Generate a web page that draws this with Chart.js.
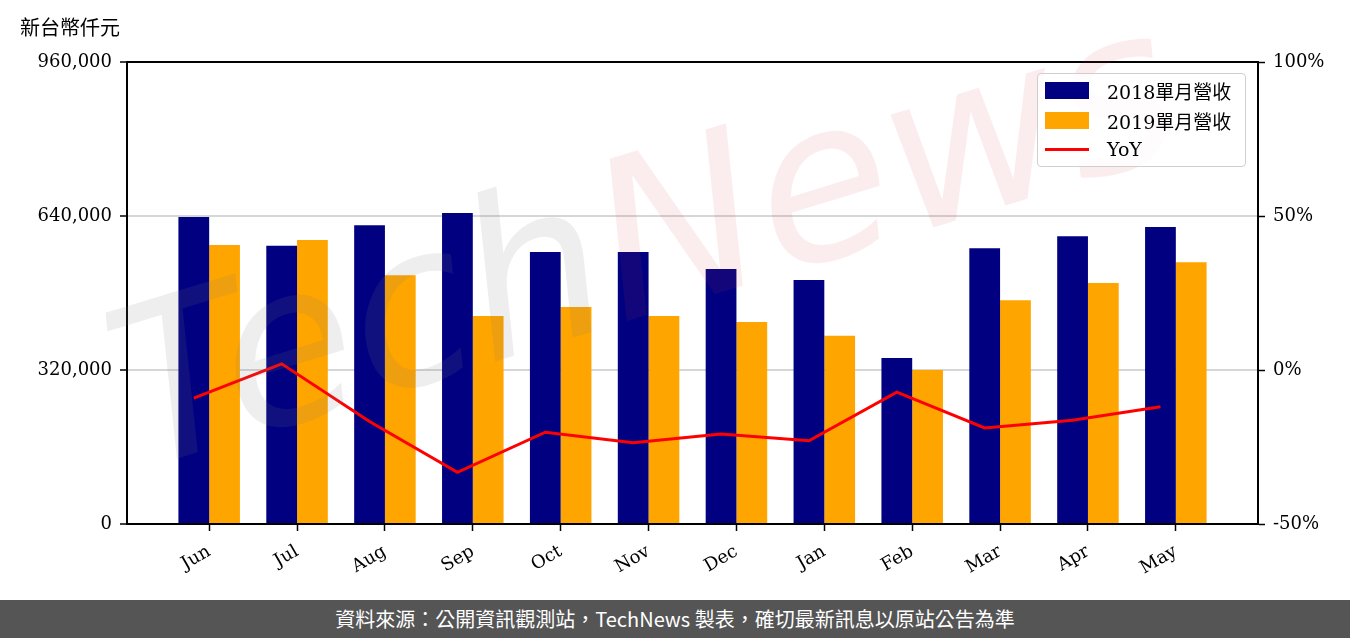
<!DOCTYPE html>
<html lang="zh-Hant">
<head>
<meta charset="UTF-8">
<title>單月營收</title>
<script src="https://cdn.jsdelivr.net/npm/chart.js"></script>
<style>
    html, body { margin: 0; padding: 0; background: #fff; }
    .wrap { position: relative; width: 1350px; height: 638px; overflow: hidden; }
    .unit { position: absolute; left: 20px; top: 12px; font: 20px "Noto Sans CJK TC", sans-serif; color: #000; }
    .legend {
        position: absolute; left: 1037px; top: 73px; width: 209px; height: 94px;
        border: 1.5px solid #cfcfcf; border-radius: 4px; background: rgba(255,255,255,0.8);
        box-sizing: border-box; font: 19px "DejaVu Serif", "Noto Sans CJK TC", serif; color: #000;
    }
    .legend .row { position: absolute; left: 7px; height: 30px; display: flex; align-items: center; }
    .legend .sw { width: 44px; height: 17px; margin-right: 18px; }
    .legend .ln { width: 44px; height: 3px; margin: 7px 18px 7px 0; background: #ff0000; }
    .footer {
        position: absolute; left: 0; top: 600px; width: 1350px; height: 38px; background: #555555;
        color: #fff; font: 20px "Noto Sans CJK TC", sans-serif; text-align: center; line-height: 38px;
    }
</style>
</head>
<body>
<div class="wrap">
    <canvas id="revChart" width="1350" height="600"></canvas>
    <div class="unit">新台幣仟元</div>
    <div class="legend">
        <div class="row" style="top:1px"><div class="sw" style="background:#000080"></div>2018單月營收</div>
        <div class="row" style="top:31px"><div class="sw" style="background:#ffa500"></div>2019單月營收</div>
        <div class="row" style="top:60px"><div class="ln"></div>YoY</div>
    </div>
    <div class="footer">資料來源：公開資訊觀測站，TechNews 製表，確切最新訊息以原站公告為準</div>
</div>

<script>
    // data
    const months = ['Jun', 'Jul', 'Aug', 'Sep', 'Oct', 'Nov', 'Dec', 'Jan', 'Feb', 'Mar', 'Apr', 'May'];
    const rev2018 = [638000, 578000, 621000, 646000, 565000, 565000, 530000, 507000, 345000, 573000, 598000, 617000];
    const rev2019 = [580000, 590000, 517000, 432000, 451000, 432000, 420000, 391000, 320000, 465000, 501000, 544000];
    const yoy = [-9.1, 2.0, -16.7, -33.2, -20.2, -23.6, -20.8, -23.0, -7.2, -18.8, -16.3, -11.9];
    const leftTicks = [0, 320000, 640000, 960000];
    const rightTicks = [-50, 0, 50, 100];

    const serif = '"DejaVu Serif", "Liberation Serif", serif';

    // top spine + watermark
    const framePlugin = {
        id: 'frame',
        afterDraw(chart) {
            const ctx = chart.ctx, a = chart.chartArea;
            ctx.save();
            ctx.strokeStyle = '#000';
            ctx.lineWidth = 2;
            ctx.beginPath();
            ctx.moveTo(a.left, a.top);
            ctx.lineTo(a.right, a.top);
            ctx.stroke();
            // TechNews watermark
            ctx.translate(140, 470);
            ctx.rotate(-17 * Math.PI / 180);
            ctx.font = 'italic 220px "DejaVu Sans", sans-serif';
            ctx.textBaseline = 'alphabetic';
            ctx.fillStyle = 'rgba(120,120,120,0.13)';
            ctx.fillText('Tech', 0, 0);
            const w = ctx.measureText('Tech').width;
            ctx.fillStyle = 'rgba(210,60,70,0.09)';
            ctx.fillText('News', w, 0);
            ctx.restore();
        }
    };

    const ctx = document.getElementById('revChart').getContext('2d');
    new Chart(ctx, {
        type: 'bar',
        data: {
            datasets: [
                {
                    type: 'line',
                    label: 'YoY',
                    data: yoy.map((v, i) => ({ x: i - 0.175, y: v })),
                    yAxisID: 'y1',
                    borderColor: '#ff0000',
                    borderWidth: 3,
                    pointRadius: 0,
                    tension: 0,
                    fill: false,
                    order: 0
                },
                {
                    label: '2018單月營收',
                    data: rev2018.map((v, i) => ({ x: i, y: v })),
                    backgroundColor: '#000080',
                    yAxisID: 'y',
                    categoryPercentage: 0.7,
                    barPercentage: 1.0,
                    order: 1
                },
                {
                    label: '2019單月營收',
                    data: rev2019.map((v, i) => ({ x: i, y: v })),
                    backgroundColor: '#ffa500',
                    yAxisID: 'y',
                    categoryPercentage: 0.7,
                    barPercentage: 1.0,
                    order: 1
                }
            ]
        },
        options: {
            responsive: false,
            animation: false,
            devicePixelRatio: 1,
            layout: { padding: { top: 62, left: 0, right: 0, bottom: 0 } },
            plugins: {
                legend: { display: false },
                tooltip: { enabled: false }
            },
            scales: {
                x: {
                    type: 'linear',
                    offset: false,
                    min: -0.935,
                    max: 11.935,
                    afterBuildTicks: (axis) => { axis.ticks = months.map((m, i) => ({ value: i })); },
                    afterFit: (axis) => { axis.height = 76; },
                    grid: { offset: false, drawOnChartArea: false, tickLength: 7, tickColor: '#000', tickWidth: 1.5 },
                    border: { color: '#000', width: 2 },
                    ticks: {
                        autoSkip: false,
                        minRotation: 30,
                        maxRotation: 30,
                        padding: 10,
                        color: '#000',
                        font: { family: serif, size: 18 },
                        callback: (v) => months[v]
                    }
                },
                y: {
                    position: 'left',
                    min: 0,
                    max: 960000,
                    afterBuildTicks: (axis) => { axis.ticks = leftTicks.map(v => ({ value: v })); },
                    afterFit: (axis) => { axis.width = 127; },
                    grid: { color: '#d6d6d6', lineWidth: 2, tickLength: 7, tickColor: '#000', tickWidth: 1.5 },
                    border: { color: '#000', width: 2 },
                    ticks: {
                        padding: 8,
                        color: '#000',
                        font: { family: serif, size: 18 },
                        callback: (v) => v.toLocaleString('en-US')
                    }
                },
                y1: {
                    position: 'right',
                    min: -50,
                    max: 100,
                    afterBuildTicks: (axis) => { axis.ticks = rightTicks.map(v => ({ value: v })); },
                    afterFit: (axis) => { axis.width = 92; },
                    grid: { drawOnChartArea: false, tickLength: 7, tickColor: '#000', tickWidth: 1.5 },
                    border: { color: '#000', width: 2 },
                    ticks: {
                        padding: 8,
                        color: '#000',
                        font: { family: serif, size: 18 },
                        callback: (v) => v + '%'
                    }
                }
            }
        },
        plugins: [framePlugin]
    });
</script>
</body>
</html>
